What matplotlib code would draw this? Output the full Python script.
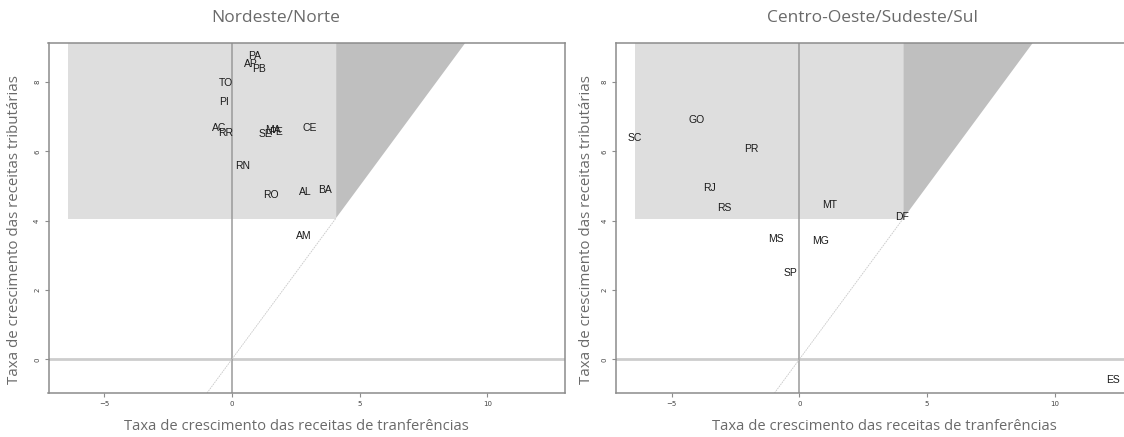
import matplotlib
matplotlib.use("Agg")
import matplotlib.pyplot as plt
from matplotlib.patches import Polygon, Rectangle

# ── data ────────────────────────────────────────────────────────────────
ne_states = ["PA", "AP", "PB", "TO", "PI", "AC", "RR", "SE", "MA", "PE",
             "CE", "RN", "RO", "AL", "BA", "AM"]
ne_transf = [0.88, 0.75, 1.08, -0.25, -0.29, -0.49, -0.23, 1.31, 1.60, 1.72,
             3.06, 0.42, 1.52, 2.87, 3.63, 2.82]
ne_trib = [8.75, 8.52, 8.39, 7.99, 7.43, 6.68, 6.53, 6.50, 6.63, 6.57,
           6.69, 5.57, 4.75, 4.82, 4.89, 3.56]

cos_states = ["SC", "GO", "PR", "RJ", "RS", "MT", "DF", "MS", "MG", "SP", "ES"]
cos_transf = [-6.43, -4.03, -1.87, -3.53, -2.94, 1.18, 4.01, -0.91, 0.82,
              -0.35, 12.29]
cos_trib = [6.39, 6.91, 6.07, 4.94, 4.38, 4.46, 4.11, 3.46, 3.41, 2.48, -0.60]

lim_transf = 4.08   # threshold on transfers growth
lim_trib = 4.06     # threshold on tax revenue growth

x_ticks = [-5, 0, 5, 10]
y_ticks = [0, 2, 4, 6, 8]

titles = ["Nordeste/Norte", "Centro-Oeste/Sudeste/Sul"]
xlabel = "Taxa de crescimento das receitas de tranferências"
ylabel = "Taxa de crescimento das receitas tributárias"

# common limits, R style (range + 4 %)
all_x = ne_transf + cos_transf
all_y = ne_trib + cos_trib
x_lo, x_hi = min(all_x), max(all_x)
y_lo, y_hi = min(all_y), max(all_y)
px = 0.04 * (x_hi - x_lo)
py = 0.04 * (y_hi - y_lo)
xlim = (x_lo - px, x_hi + px)
ylim = (y_lo - py, y_hi + py)

W, H = 1124, 437
fig = plt.figure(figsize=(W / 100, H / 100), dpi=100, facecolor="white")

GREY_TXT = "#6a6a6a"
AX_GREY = "#8c8c8c"


def panel(left_px, states, xs, ys):
    ax = fig.add_axes([left_px / W, 1 - 393 / H, 516.5 / W, (393 - 43.3) / H])
    ax.set_xlim(*xlim)
    ax.set_ylim(*ylim)
    top = ylim[1] + 5

    # shaded regions
    ax.add_patch(Rectangle((x_lo, lim_trib), lim_transf - x_lo, top - lim_trib,
                           facecolor="#dedede", edgecolor="none", zorder=0))
    ax.add_patch(Polygon([(lim_transf, lim_transf), (top, top), (lim_transf, top)],
                         closed=True, facecolor="#bfbfbf", edgecolor="none", zorder=0))

    # reference lines
    ax.axhline(0, color="#cdcdcd", lw=2.0, zorder=1)
    ax.axvline(0, color="#9a9a9a", lw=1.1, zorder=1)
    ax.plot([ylim[0], lim_transf], [ylim[0], lim_transf], color="#c8c8c8",
            lw=0.6, ls=(0, (2, 1)), zorder=1)

    for s, x, y in zip(states, xs, ys):
        ax.text(x, y, s, ha="center", va="center", fontsize=7.5,
                family="Liberation Sans", color="#1a1a1a", zorder=3)

    for sp in ax.spines.values():
        sp.set_color(AX_GREY)
        sp.set_linewidth(1.1)
    ax.set_xticks(x_ticks)
    ax.set_yticks(y_ticks)
    ax.tick_params(direction="out", length=3, width=0.8, color=AX_GREY,
                   labelsize=5, labelcolor="#444444", pad=3)
    for lab in ax.get_yticklabels():
        lab.set_rotation(90)
        lab.set_va("center")
    return ax


panel(48.5, ne_states, ne_transf, ne_trib)
panel(616.0, cos_states, cos_transf, cos_trib)

# titles and axis labels placed at their measured centres
txt_kw = dict(family="Open Sans", color=GREY_TXT, ha="center", va="center")
fig.text(276 / W, 1 - 18 / H, titles[0], fontsize=12.5, **txt_kw)
fig.text(873 / W, 1 - 18 / H, titles[1], fontsize=12.5, **txt_kw)
fig.text(296 / W, 1 - 427 / H, xlabel, fontsize=10.6, **txt_kw)
fig.text(884 / W, 1 - 427 / H, xlabel, fontsize=10.6, **txt_kw)
fig.text(15 / W, 1 - 230 / H, ylabel, fontsize=10.8, rotation=90, **txt_kw)
fig.text(587 / W, 1 - 230 / H, ylabel, fontsize=10.8, rotation=90, **txt_kw)

fig.savefig("out.png", dpi=100, facecolor="white")
